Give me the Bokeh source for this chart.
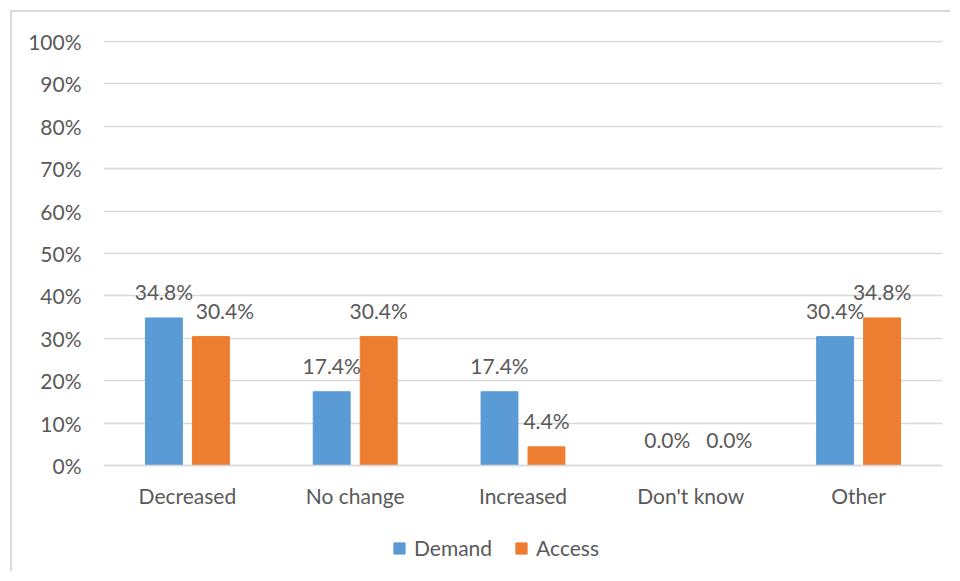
from bokeh.plotting import figure
from bokeh.models import (FactorRange, Range1d, ColumnDataSource, Legend, LegendItem,
                          NumeralTickFormatter, FixedTicker)
from bokeh.transform import dodge
from bokeh.core.properties import value
from bokeh.embed import file_html
from bokeh.resources import INLINE

# ---- data ----
categories = ["Decreased", "No change", "Increased", "Don't know", "Other"]
demand = [0.348, 0.174, 0.174, 0.0, 0.304]
access = [0.304, 0.304, 0.044, 0.0, 0.348]
series_names = ["Demand", "Access"]
y_ticks = [0.0, 0.1, 0.2, 0.3, 0.4, 0.5, 0.6, 0.7, 0.8, 0.9, 1.0]
# horizontal nudges (px) Excel applied to data labels to avoid overlap
demand_label_nudge = [0, 0, 0, 0, 0]
access_label_nudge = [14, 0, 0, 15, 0]

# ---- style ----
FONT = "Lato"
TXT = "#595959"
GRID = "#D9D9D9"
BLUE = "#5B9BD5"
ORANGE = "#ED7D31"
FS = "21px"

src = ColumnDataSource(dict(
    cat=categories,
    demand=demand,
    access=access,
    demand_lbl=[f"{v*100:.1f}%" for v in demand],
    access_lbl=[f"{v*100:.1f}%" for v in access],
    demand_dx=demand_label_nudge,
    access_dx=access_label_nudge,
))

# frame reaches down to the legend; the category axis sits at y = 0
p = figure(x_range=FactorRange(*categories, range_padding=0),
           y_range=Range1d(-0.2547, 1.0024),
           width=940, height=561,
           output_backend="svg", toolbar_location=None,
           min_border_left=91, min_border_right=10,
           min_border_top=28, min_border_bottom=0)
p.styles = {"border-left": "2px solid #D9D9D9", "border-top": "2px solid #D9D9D9",
            "margin-left": "10px", "margin-top": "10px"}
p.outline_line_color = None
p.background_fill_color = "white"
p.border_fill_color = "white"

BW = 0.22
OFF = 0.14
r1 = p.vbar(x=dodge("cat", -OFF, range=p.x_range), top="demand", width=BW,
            source=src, fill_color=BLUE, line_color=BLUE)
r2 = p.vbar(x=dodge("cat", OFF, range=p.x_range), top="access", width=BW,
            source=src, fill_color=ORANGE, line_color=ORANGE)

p.text(x=dodge("cat", -OFF, range=p.x_range), y="demand", text="demand_lbl",
       x_offset="demand_dx", y_offset=-26, source=src, text_align="center",
       text_baseline="alphabetic", text_font=value(FONT), text_font_size=FS,
       text_color=TXT)
p.text(x=dodge("cat", OFF, range=p.x_range), y="access", text="access_lbl",
       x_offset="access_dx", y_offset=-26, source=src, text_align="center",
       text_baseline="alphabetic", text_font=value(FONT), text_font_size=FS,
       text_color=TXT)

# axes
p.yaxis.ticker = FixedTicker(ticks=y_ticks)
p.yaxis.formatter = NumeralTickFormatter(format="0%")
p.yaxis.axis_line_color = None
p.yaxis.major_tick_line_color = None
p.yaxis.minor_tick_line_color = None
p.yaxis.major_label_standoff = 16
p.yaxis.major_label_text_font = FONT
p.yaxis.major_label_text_font_size = FS
p.yaxis.major_label_text_color = TXT

p.xaxis.fixed_location = 0
p.xaxis.axis_line_color = GRID
p.xaxis.axis_line_width = 1.5
p.xaxis.major_tick_line_color = None
p.xaxis.minor_tick_line_color = None
p.xaxis.major_label_standoff = 11
p.xaxis.major_label_text_font = FONT
p.xaxis.major_label_text_font_size = FS
p.xaxis.major_label_text_color = TXT

p.xgrid.grid_line_color = None
p.ygrid.grid_line_color = GRID
p.ygrid.grid_line_width = 1.5

legend = Legend(items=[LegendItem(label=series_names[0], renderers=[r1]),
                       LegendItem(label=series_names[1], renderers=[r2])],
                orientation="horizontal", location=(289, 13),
                border_line_color=None, background_fill_alpha=0,
                padding=0, margin=0, spacing=22,
                glyph_width=14, glyph_height=14, label_standoff=8,
                label_text_font=FONT, label_text_font_size=FS,
                label_text_color=TXT)
p.add_layout(legend, "center")

open("out.html", "w").write(file_html(p, INLINE))
